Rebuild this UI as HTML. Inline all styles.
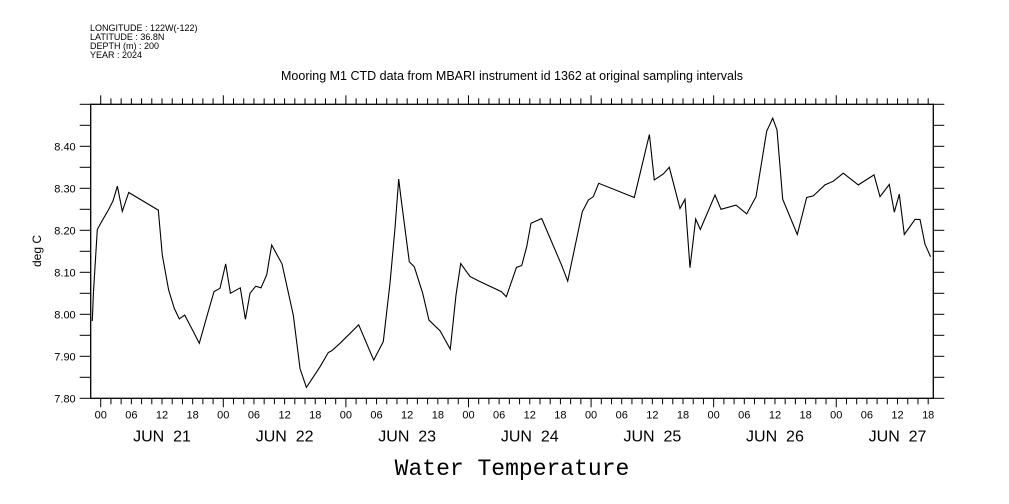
<!DOCTYPE html>
<html><head><meta charset="utf-8"><style>
html,body{margin:0;padding:0;background:#fff;}
svg{display:block;font-family:"Liberation Sans",sans-serif;}
</style></head><body>
<svg id="chart" width="1009" height="504" viewBox="0 0 1009 504" xmlns="http://www.w3.org/2000/svg">
<g font-size="9" fill="#000">
<text x="90" y="31">LONGITUDE : 122W(-122)</text>
<text x="90" y="40">LATITUDE : 36.8N</text>
<text x="90" y="49">DEPTH (m) : 200</text>
<text x="90" y="58">YEAR : 2024</text>
</g>
<text x="512" y="80" text-anchor="middle" font-size="12.5">Mooring M1 CTD data from MBARI instrument id 1362 at original sampling intervals</text>
<text x="512" y="475" text-anchor="middle" font-size="23" font-family="Liberation Mono, monospace">Water Temperature</text>
<text transform="translate(41,251) rotate(-90)" text-anchor="middle" font-size="12">deg C</text>
<g id="axes"></g>
<g id="series"></g>
</svg>
<script>
const hours = [-1.64,-1.44,-0.66,0.19,1.49,2.41,3.26,4.23,5.47,11.28,12.06,13.30,14.41,15.39,16.44,18.13,19.31,20.94,22.18,23.35,24.46,25.38,27.33,28.32,29.23,30.34,31.38,32.49,33.47,35.49,37.71,39.02,40.26,42.93,44.56,45.22,46.85,50.50,53.44,55.33,56.64,57.61,58.33,58.72,60.42,61.40,63.03,64.27,66.42,68.45,69.56,70.47,72.30,74.06,78.43,79.41,81.40,82.41,83.39,84.24,86.33,90.24,91.42,94.29,95.46,96.44,97.49,104.47,107.41,108.38,110.15,111.32,113.41,114.39,115.37,116.48,117.39,120.26,121.44,124.37,126.46,128.29,130.38,131.55,132.40,133.51,136.38,138.21,139.51,141.80,143.43,145.38,148.32,151.39,152.56,154.39,155.37,156.35,157.33,159.41,160.39,161.37,162.48];
const temps = [7.984,8.050,8.202,8.221,8.248,8.270,8.305,8.245,8.290,8.248,8.141,8.058,8.014,7.989,7.998,7.959,7.931,8.002,8.054,8.062,8.120,8.050,8.063,7.988,8.050,8.067,8.063,8.094,8.165,8.120,7.998,7.871,7.826,7.875,7.909,7.913,7.931,7.975,7.891,7.935,8.074,8.205,8.322,8.284,8.125,8.113,8.050,7.986,7.961,7.917,8.046,8.121,8.090,8.079,8.054,8.042,8.112,8.116,8.161,8.217,8.228,8.117,8.079,8.244,8.272,8.280,8.312,8.278,8.428,8.320,8.334,8.350,8.252,8.274,8.111,8.227,8.202,8.284,8.250,8.260,8.239,8.280,8.436,8.467,8.439,8.274,8.190,8.278,8.282,8.308,8.317,8.336,8.308,8.332,8.280,8.309,8.243,8.286,8.190,8.226,8.226,8.167,8.137];
const yTickLabels = ["7.80","7.90","8.00","8.10","8.20","8.30","8.40"];
const dayLabels = ["JUN 21","JUN 22","JUN 23","JUN 24","JUN 25","JUN 26","JUN 27"];
const hourLabels = ["00","06","12","18"];

const L=90.7,R=933.3,T=104.3,B=398.3;
const H0=-1.96,H1=163.0,V0=7.8,V1=8.5;
const xs=h=>L+(h-H0)/(H1-H0)*(R-L);
const ys=v=>B-(v-V0)/(V1-V0)*(B-T);
const NS="http://www.w3.org/2000/svg";
const ax=document.getElementById('axes');
function mk(tag,attrs,parent){const e=document.createElementNS(NS,tag);for(const k in attrs)e.setAttribute(k,attrs[k]);(parent||ax).appendChild(e);return e;}
let fr=mk('rect',{x:L,y:T,width:R-L,height:B-T,fill:'none',stroke:'#000','stroke-width':1.3});


// x ticks every 2 h
for(let h=0;h<=H1;h+=2){
  const x=xs(h);const major=(h%24===0);
  let t1=mk('line',{x1:x,x2:x,y1:B,y2:B+(major?9:6),stroke:'#000','stroke-width':1});
  
  
  let t2=mk('line',{x1:x,x2:x,y1:T,y2:T-(major?9:6),stroke:'#000','stroke-width':1});
  
  
  if(h%6===0){
    let tx=mk('text',{x:x,y:B+20,'text-anchor':'middle','font-size':11});
    tx.textContent=hourLabels[(h%24)/6];
    
    
  }
}
dayLabels.forEach((d,i)=>{
  let tx=mk('text',{x:xs(i*24+12),y:B+43,'text-anchor':'middle','font-size':16});
  tx.textContent=d.replace(' ','\u00a0\u00a0');
  
  
});
// y ticks every 0.05
for(let k=0;k<=14;k++){
  const v=V0+k*0.05;const y=ys(v);
  let a=mk('line',{x1:L-11,x2:L,y1:y,y2:y,stroke:'#000','stroke-width':1});
  
  
  let b=mk('line',{x1:R,x2:R+11,y1:y,y2:y,stroke:'#000','stroke-width':1});
  
  
}
yTickLabels.forEach(s=>{
  let tx=mk('text',{x:L-15,y:ys(parseFloat(s))+4,'text-anchor':'end','font-size':11});
  tx.textContent=s;
  
  
});
const pts=hours.map((h,i)=>xs(h).toFixed(1)+','+ys(temps[i]).toFixed(1)).join(' ');
let line=mk('polyline',{points:pts,fill:'none',stroke:'#000','stroke-width':1.1},document.getElementById('series'));


</script>
</body></html>
